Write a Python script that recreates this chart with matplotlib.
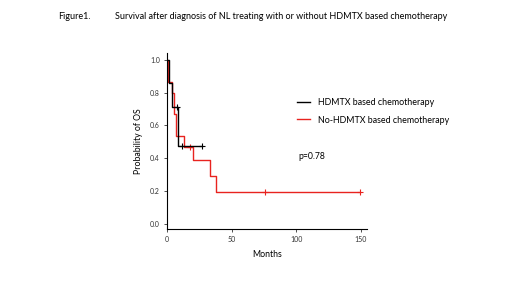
import matplotlib
matplotlib.use("Agg")
import matplotlib.pyplot as plt

plt.rcParams['font.family'] = ['Lato', 'DejaVu Sans']

# Kaplan-Meier steps (months, survival)
hd_t = [0, 1.8, 3.6, 8.8, 27.2]
hd_s = [1.0, 0.857, 0.714, 0.476, 0.476]
hd_cens_t = [7.8, 11.4, 27.2]
hd_cens_s = [0.714, 0.476, 0.476]

no_t = [0, 0.5, 1.2, 3.9, 5.4, 7.0, 13.2, 19.9, 33.0, 38.0, 149.4]
no_s = [1.0, 0.933, 0.867, 0.800, 0.667, 0.533, 0.467, 0.389, 0.292, 0.195, 0.195]
no_cens_t = [18.0, 75.9, 149.4]
no_cens_s = [0.467, 0.195, 0.195]

p_text = "p=0.78"

fig = plt.figure(figsize=(5.2, 2.92), dpi=100)
ax = fig.add_axes([0.321, 0.216, 0.385, 0.602])

ax.step(no_t, no_s, where='post', color='#e8231f', lw=1.0, label='No-HDMTX based chemotherapy')
ax.plot(no_cens_t, no_cens_s, '+', color='#e8231f', ms=4, mew=0.8)
ax.step(hd_t, hd_s, where='post', color='black', lw=1.0, label='HDMTX based chemotherapy')
ax.plot(hd_cens_t, hd_cens_s, '+', color='black', ms=4, mew=0.8)

ax.set_xlim(0, 155)
ax.set_ylim(-0.03, 1.04)
ax.set_xticks([0, 50, 100, 150])
ax.set_yticks([0.0, 0.2, 0.4, 0.6, 0.8, 1.0])
ax.set_yticklabels(['0.0', '0.2', '0.4', '0.6', '0.8', '1.0'])
ax.tick_params(labelsize=5, length=2, width=0.6, colors='#333333', pad=3)
for s in ['top', 'right']:
    ax.spines[s].set_visible(False)
for s in ['left', 'bottom']:
    ax.spines[s].set_linewidth(0.8)

ax.set_xlabel('Months', fontsize=6.3, labelpad=5)
ax.set_ylabel('Probability of OS', fontsize=6.3, labelpad=5)

h, l = ax.get_legend_handles_labels()
ax.legend(h[::-1], l[::-1], loc='center left', bbox_to_anchor=(0.65, 0.67), frameon=False,
          fontsize=6.4, handlelength=1.5, handletextpad=0.9, labelspacing=1.0,
          borderpad=0, borderaxespad=0)
ax.text(0.655, 0.41, p_text, transform=ax.transAxes, fontsize=6.2, va='center')

fig.text(58 / 520, 1 - 19 / 292, 'Figure1.', fontsize=6.5)
fig.text(115 / 520, 1 - 19 / 292, 'Survival after diagnosis of NL treating with or without HDMTX based chemotherapy', fontsize=6.5)

fig.savefig('out.png', dpi=100)
